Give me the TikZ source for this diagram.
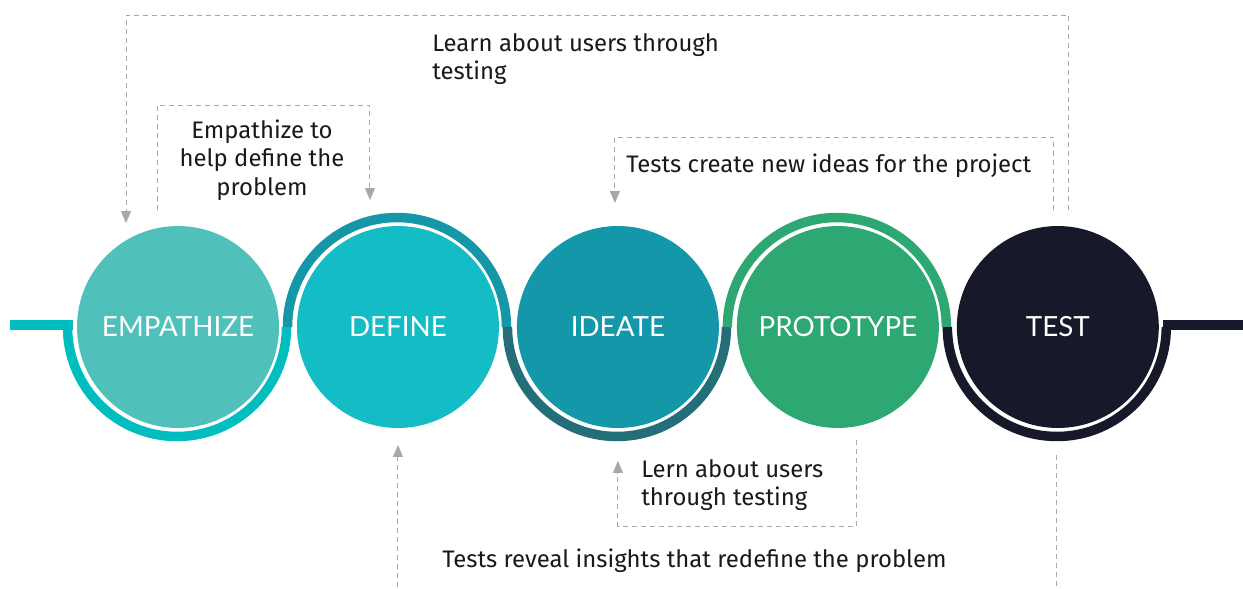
\documentclass[tikz,border=0pt]{standalone}
\usepackage{fontspec}
\setmainfont{Fira Sans}
\newfontfamily\phasefont{Lato}
\usepackage{tikz}
\usetikzlibrary{positioning,arrows.meta}

\definecolor{empfill}{HTML}{4FC1BA}
\definecolor{empring}{HTML}{00BEC0}
\definecolor{deffill}{HTML}{14BCC6}
\definecolor{defring}{HTML}{1597A8}
\definecolor{ideafill}{HTML}{1597AA}
\definecolor{idearing}{HTML}{236E78}
\definecolor{protofill}{HTML}{2EA872}
\definecolor{testfill}{HTML}{171829}
\definecolor{loopgray}{HTML}{A8A8AC}

\tikzset{
  phase/.style={circle, minimum size=4.04cm, inner sep=0pt, outer sep=0pt, text=white,
    font=\phasefont\fontsize{15.8}{18}\selectfont},
  ring/.style={line width=0.19cm},
  feedback/.style={draw=loopgray, line width=0.55pt, dash pattern=on 0.1cm off 0.08cm,
    -{Triangle[length=0.24cm, width=0.2cm, fill=loopgray]}},
  note/.style={inner sep=0pt, text=black!90, font=\fontsize{13.6}{16.3}\selectfont}
}

\begin{document}
\begin{tikzpicture}[x=0.02cm, y=-0.02cm]
\useasboundingbox (0,0) rectangle (1243,588);
\clip (0,0) rectangle (1243,588);

% the five phases
\node[phase, fill=empfill] at (178,327) (empathize) {EMPATHIZE};
\node[phase, fill=deffill, right=0.36cm of empathize] (define) {DEFINE};
\node[phase, fill=ideafill, right=0.36cm of define] (ideate) {IDEATE};
\node[phase, fill=protofill, right=0.36cm of ideate] (prototype) {PROTOTYPE};
\node[phase, fill=testfill, right=0.36cm of prototype] (test) {TEST};

% line and half rings
\draw[ring, empring] (10,325) -- (73,325);
\draw[ring, empring] ([xshift=-0.19cm]empathize.west) arc[start angle=180, end angle=360, radius=2.19cm];
\draw[ring, defring] ([xshift=-0.19cm]define.west) arc[start angle=180, end angle=0, radius=2.19cm];
\draw[ring, idearing] ([xshift=-0.19cm]ideate.west) arc[start angle=180, end angle=360, radius=2.19cm];
\draw[ring, protofill] ([xshift=-0.19cm]prototype.west) arc[start angle=180, end angle=0, radius=2.19cm];
\draw[ring, testfill] ([xshift=-0.19cm]test.west) arc[start angle=180, end angle=360, radius=2.19cm];
\draw[ring, testfill] (1163,325) -- (1243,325);

% feedback loops
\draw[feedback] ([xshift=0.22cm, yshift=0.32cm]test.north) -- ++(0,-195) -| ([xshift=-1.04cm, yshift=0.06cm]empathize.north);
\node[note, anchor=west, align=left] at (432,59) (learn) {Learn about users through\\testing};

\draw[feedback] ([xshift=-0.42cm, yshift=0.32cm]empathize.north) -- ++(0,-105) -| ([xshift=-0.56cm, yshift=0.52cm]define.north);
\node[note, align=center] at (262,160) (help) {Empathize to\\help define the\\problem};

\draw[feedback] ([xshift=-0.08cm, yshift=0.32cm]test.north) -- ++(0,-73) -| ([xshift=-0.06cm, yshift=0.46cm]ideate.north);
\node[note, anchor=west] at (626,166) (ideas) {Tests create new ideas for the project};

\draw[feedback] ([xshift=0.38cm, yshift=-0.24cm]prototype.south) -- ++(0,86) -| ([yshift=-0.66cm]ideate.south);
\node[note, anchor=west, align=left] at (641,485) (lern) {Lern about users\\through testing};

\draw[feedback] ([xshift=-0.02cm, yshift=-0.54cm]test.south) -- ++(0,200) -| ([yshift=-0.34cm]define.south);
\node[note, anchor=west] at (442,561) (reveal) {Tests reveal insights that redefine the problem};
\end{tikzpicture}
\end{document}
